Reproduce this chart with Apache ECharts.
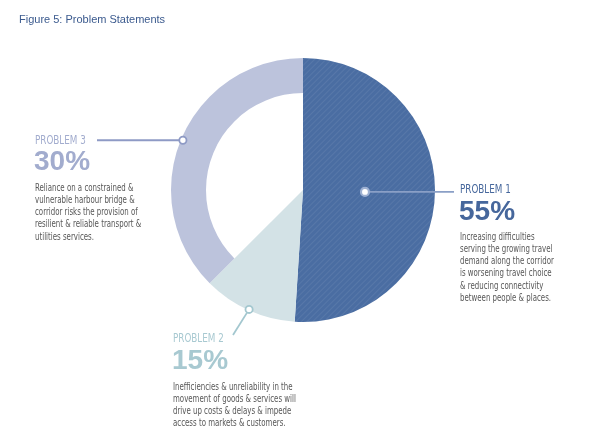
<!DOCTYPE html>
<html>
<head>
<meta charset="utf-8">
<script src="https://cdn.jsdelivr.net/npm/echarts@6/dist/echarts.min.js"></script>
<style>
  html, body { margin: 0; padding: 0; background: #fff; }
  #main { width: 600px; height: 435px; }
</style>
</head>
<body>
<div id="main"></div>
<script>
// data
const problems = ["PROBLEM 1", "PROBLEM 2", "PROBLEM 3"];
const shareLabels = ["55%", "15%", "30%"];
// slice sizes as drawn in the figure (arc share, clockwise from 12 o'clock)
const arcShares = [51, 11.5, 37.5];
const descriptions = [
  ["Increasing difficulties", "serving the growing travel", "demand along the corridor",
   "is worsening travel choice", "& reducing connectivity", "between people & places."],
  ["Inefficiencies & unreliability in the", "movement of goods & services will",
   "drive up costs & delays & impede", "access to markets & customers."],
  ["Reliance on a constrained &", "vulnerable harbour bridge &", "corridor risks the provision of",
   "resilient & reliable transport &", "utilities services."]
];

// styles / layout
const sliceColors = ["#4a6da2", "#d3e2e6", "#bcc3dc"];
const textColors = ["#46679c", "#a8c9d1", "#a2acce"];
const lineColors = ["#8a9fc6", "#a3c7cf", "#8e9ac5"];
const CX = 303, CY = 190, R = 132, R_IN = 97;
const narrow = "'Liberation Sans Narrow', 'DejaVu Sans Condensed', 'Liberation Sans', sans-serif";
const wide = "'Liberation Sans', Arial, sans-serif";

const total = arcShares.reduce((a, b) => a + b, 0);
function midPoint(i, r) {
  let cum = 0;
  for (let k = 0; k < i; k++) cum += arcShares[k];
  const t = (cum + arcShares[i] / 2) / total * Math.PI * 2;
  return [CX + r * Math.sin(t), CY - r * Math.cos(t)];
}

const chart = echarts.init(document.getElementById("main"), null, { renderer: "canvas" });

// full wedges for problem 1 & 2, ring for problem 3
const fullData = problems.map((p, i) => ({
  name: p, value: arcShares[i],
  itemStyle: { color: i === 2 ? "rgba(0,0,0,0)" : sliceColors[i] }
}));
fullData[0].itemStyle.decal = {
  symbol: "rect", symbolSize: 1, dashArrayX: [1, 0], dashArrayY: [1, 3],
  rotation: -Math.PI / 4, color: "rgba(255,255,255,0.07)"
};
const ringData = problems.map((p, i) => ({
  name: p, value: arcShares[i],
  itemStyle: { color: i === 2 ? sliceColors[2] : "rgba(0,0,0,0)" }
}));

const markerR = [62, 131, 130];
const markers = markerR.map((r, i) => midPoint(i, r));
const lineEnds = [[454, markers[0][1]], [233, 335], [97, markers[2][1]]];

const graphics = [];
graphics.push({
  type: "text", left: 19, top: 14,
  style: { text: "Figure 5: Problem Statements", fill: "#3b5a8e", font: "11px " + wide }
});
problems.forEach((p, i) => {
  graphics.push({
    type: "line", z: 10,
    shape: { x1: markers[i][0], y1: markers[i][1], x2: lineEnds[i][0], y2: lineEnds[i][1] },
    style: { stroke: lineColors[i], lineWidth: 1.8 }
  });
  graphics.push({
    type: "circle", z: 11,
    shape: { cx: markers[i][0], cy: markers[i][1], r: i === 0 ? 4 : 3.6 },
    style: { fill: "#fff", stroke: i === 0 ? "#9db0d2" : lineColors[i], lineWidth: i === 0 ? 2.2 : 1.8 }
  });
});

const blocks = [
  { x: 460, head: 190, pct: 212, body: 237 },
  { x: 173, head: 339, pct: 361, body: 387 },
  { x: 35, head: 141, pct: 162, body: 188 }
];
blocks.forEach((b, i) => {
  graphics.push({
    type: "text", x: b.x, y: b.head, scaleX: 0.85,
    style: { text: problems[i], fill: textColors[i], font: "11.5px " + narrow, verticalAlign: "middle" }
  });
  graphics.push({
    type: "text", x: b.x - 1, y: b.pct,
    style: { text: shareLabels[i], fill: textColors[i], font: "bold 28px " + wide, verticalAlign: "middle" }
  });
  descriptions[i].forEach((line, j) => {
    graphics.push({
      type: "text", x: b.x, y: b.body + j * 12.3, scaleX: 0.78,
      style: { text: line, fill: "#575757", font: "10px " + narrow, verticalAlign: "middle" }
    });
  });
});

chart.setOption({
  animation: false,
  backgroundColor: "#ffffff",
  series: [
    {
      type: "pie", center: [CX, CY], radius: [0, R], startAngle: 90, clockwise: true,
      silent: true, label: { show: false }, labelLine: { show: false },
      itemStyle: { borderWidth: 0 }, data: fullData
    },
    {
      type: "pie", center: [CX, CY], radius: [R_IN, R], startAngle: 90, clockwise: true,
      silent: true, label: { show: false }, labelLine: { show: false },
      itemStyle: { borderWidth: 0 }, data: ringData
    }
  ],
  graphic: graphics
});
</script>
</body>
</html>
